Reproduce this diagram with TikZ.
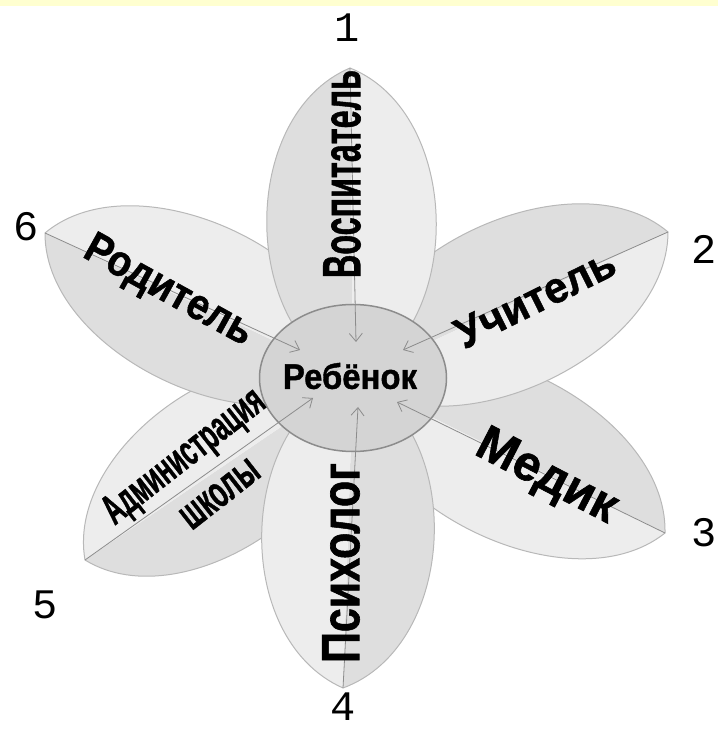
\documentclass[tikz,border=0pt]{standalone}
\usepackage{fontspec}
\setmainfont{Liberation Sans}[BoldFeatures={FakeBold=1.2}]
\newfontfamily\digitfont{Liberation Mono}
\usetikzlibrary{calc,shapes.geometric,arrows.meta}
\definecolor{stripyellow}{RGB}{255,255,208}
\newcommand{\petaltext}[3]{\resizebox{#1}{#2}{\bfseries #3}}
\tikzset{
  petalline/.style={draw=black!28, line width=1pt},
  petaldark/.style={fill=black!13},
  petallight/.style={fill=black!7},
  arrowline/.style={draw=black!45, line width=0.8pt, -{Straight Barb[length=8pt,width=13pt]}},
  role/.style={inner sep=0pt},
  digit/.style={inner sep=0pt, font=\digitfont\fontsize{42}{42}\selectfont}
}
\begin{document}
\begin{tikzpicture}[x=1pt,y=1pt]
    \useasboundingbox (0,0) rectangle (718,730);
    \fill[stripyellow] (0,724) rectangle (718,730);

    % centre of the flower and the petal tips
    \coordinate (c) at (353,352);
    \coordinate (t1) at (350,662);
    \coordinate (t2) at (668,498);
    \coordinate (t3) at (665,197);
    \coordinate (t4) at (343,42);
    \coordinate (t5) at (85,170);
    \coordinate (t6) at (45,497);

    % petals
    \foreach \t/\k in {t3/112pt, t5/108pt, t2/112pt, t6/110pt, t4/115pt, t1/113pt} {
        \fill[petaldark] (c) .. controls ($(c)!0.15!(\t)!\k!90:(\t)$) and ($(c)!0.85!(\t)!\k!90:(\t)$) .. (\t) -- cycle;
        \fill[petallight] (c) .. controls ($(c)!0.15!(\t)!\k!-90:(\t)$) and ($(c)!0.85!(\t)!\k!-90:(\t)$) .. (\t) -- cycle;
        \draw[petalline] (c) .. controls ($(c)!0.15!(\t)!\k!90:(\t)$) and ($(c)!0.85!(\t)!\k!90:(\t)$) .. (\t)
            .. controls ($(c)!0.85!(\t)!\k!-90:(\t)$) and ($(c)!0.15!(\t)!\k!-90:(\t)$) .. (c);
    }

    % the child in the middle
    \node[ellipse, draw=black!45, line width=1.5pt, fill=black!17, minimum width=187pt, minimum height=147pt, inner sep=0pt] (child) at (c) {};
    \node[role] (name) at (350,354) {\petaltext{134pt}{26pt}{Ребёнок}};

    % arrows to the child
    \coordinate (e1) at (356,388);
    \coordinate (e2) at (403,380);
    \coordinate (e3) at (397,328);
    \coordinate (e4) at (358,323);
    \coordinate (e5) at (313,332);
    \coordinate (e6) at (300,380);
    \foreach \i in {1,...,6}
        \draw[arrowline] (t\i) -- (e\i);

    % roles on the petals
    \node[role, rotate=90] (l1) at (342,556) {\petaltext{208pt}{37pt}{Воспитатель}};
    \node[role, rotate=26.4] (l2) at (535,432) {\petaltext{173pt}{30pt}{Учитель}};
    \node[role, rotate=-27.4] (l3) at (546,252) {\petaltext{152pt}{34pt}{Медик}};
    \node[role, rotate=90] (l4) at (341,167) {\petaltext{200pt}{37pt}{Психолог}};
    \node[role, rotate=38] (l5) at (185,272) {\petaltext{194pt}{29pt}{Администрация}};
    \node[role, rotate=38] (l5b) at (220,236) {\petaltext{90pt}{24pt}{школы}};
    \node[role, rotate=-28.9] (l6) at (168,438) {\petaltext{186pt}{30pt}{Родитель}};

    % petal numbers
    \node[digit] (n1) at (347,702) {1};
    \node[digit] (n2) at (704,481) {2};
    \node[digit] (n3) at (704,197) {3};
    \node[digit] (n4) at (343,23) {4};
    \node[digit] (n5) at (45,125) {5};
    \node[digit] (n6) at (26,503) {6};
\end{tikzpicture}
\end{document}
